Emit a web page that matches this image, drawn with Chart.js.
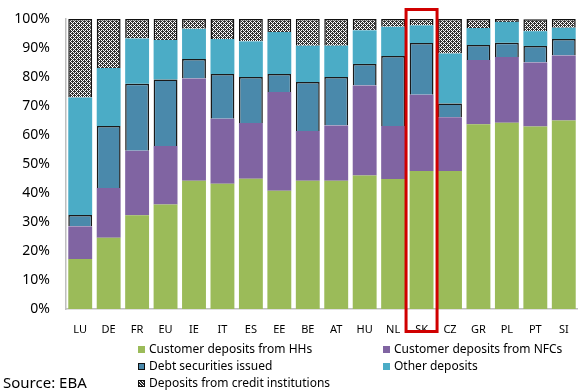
<!DOCTYPE html>
<html>
<head>
<meta charset="utf-8">
<script src="https://cdn.jsdelivr.net/npm/chart.js@4"></script>
<style>
  html, body { margin: 0; padding: 0; background: #fff; }
  #wrap { position: relative; width: 578px; height: 390px; font-family: "Noto Sans", sans-serif; color: #000; }
  #chart { position: absolute; left: 0; top: 0; }
  .lg { position: absolute; font-size: 12px; line-height: 14px; white-space: nowrap; }
  .lg i { display: inline-block; width: 7px; height: 7px; margin-right: 4px; vertical-align: 0px; box-sizing: border-box; }
  #source { position: absolute; left: 3px; top: 373px; font-size: 15px; line-height: 18px; }
</style>
</head>
<body>
<div id="wrap">
  <canvas id="chart" width="578" height="390"></canvas>
  <div class="lg" style="left:138px; top:342px"><i style="background:#9BBB59"></i>Customer deposits from HHs</div>
  <div class="lg" style="left:383px; top:342px"><i style="background:#8064A2"></i>Customer deposits from NFCs</div>
  <div class="lg" style="left:138px; top:359px"><i style="background:#4A89AB; border:1px solid #111"></i>Debt securities issued</div>
  <div class="lg" style="left:383px; top:359px"><i style="background:#4BACC6"></i>Other deposits</div>
  <div class="lg" style="left:138px; top:376px"><i style="background:repeating-linear-gradient(45deg,#333 0 1px,#fff 1px 2px); border:1px solid #111"></i>Deposits from credit institutions</div>
  <div id="source">Source: EBA</div>
</div>
<script>
const countries = ['LU', 'DE', 'FR', 'EU', 'IE', 'IT', 'ES', 'EE', 'BE', 'AT', 'HU', 'NL', 'SK', 'CZ', 'GR', 'PL', 'PT', 'SI'];
const hhDeposits   = [17.2, 24.6, 32.3, 36.0, 44.2, 43.2, 44.9, 40.8, 44.2, 44.2, 46.0, 44.8, 47.6, 47.6, 63.7, 64.2, 62.9, 65.0];
const nfcDeposits  = [11.3, 17.1, 22.3, 20.2, 35.3, 22.4, 19.2, 34.0, 17.2, 19.1, 31.1, 18.3, 26.3, 18.5, 22.2, 22.7, 22.1, 22.4];
const debtIssued   = [3.9, 21.4, 23.1, 22.9, 6.7, 15.4, 15.9, 6.2, 16.9, 16.7, 7.4, 24.1, 17.8, 4.8, 5.1, 4.9, 5.7, 5.7];
const otherDeposits = [40.5, 20.0, 15.6, 13.7, 10.4, 12.1, 12.3, 14.5, 12.5, 10.8, 11.6, 10.1, 6.1, 17.2, 5.9, 7.2, 5.1, 3.9];
const creditInst   = [27.1, 16.9, 6.7, 7.2, 3.4, 6.9, 7.7, 4.5, 9.2, 9.2, 3.9, 2.7, 2.2, 11.9, 3.1, 1.0, 4.1, 3.0];
const yTicks = [0, 10, 20, 30, 40, 50, 60, 70, 80, 90, 100];
const highlighted = 'SK';

// small dither tile for the "credit institutions" segments
function hatchPattern() {
  const c = document.createElement('canvas');
  c.width = 4; c.height = 4;
  const g = c.getContext('2d');
  g.fillStyle = '#fff';
  g.fillRect(0, 0, 4, 4);
  g.fillStyle = '#333';
  for (let y = 0; y < 4; y++) {
    for (let x = 0; x < 4; x++) {
      if ((x + y) % 2 === 0 || (x + y) % 4 === 1 && x % 2 === 0) g.fillRect(x, y, 1, 1);
    }
  }
  return g.createPattern(c, 'repeat');
}

// red frame around the highlighted country
const frameBox = {
  id: 'frameBox',
  afterDatasetsDraw(chart) {
    const ctx = chart.ctx;
    const x = chart.scales.x.getPixelForValue(countries.indexOf(highlighted));
    ctx.save();
    ctx.strokeStyle = '#D00000';
    ctx.lineWidth = 3;
    ctx.strokeRect(x - 15.5, 9.5, 31, 322);
    ctx.restore();
  }
};

const ctx = document.getElementById('chart').getContext('2d');
const barOpts = { barPercentage: 0.84, categoryPercentage: 1 };

new Chart(ctx, {
  type: 'bar',
  data: {
    labels: countries,
    datasets: [
      { label: 'Customer deposits from HHs', data: hhDeposits, backgroundColor: '#9BBB59', borderWidth: 0, ...barOpts },
      { label: 'Customer deposits from NFCs', data: nfcDeposits, backgroundColor: '#8064A2', borderWidth: 0, ...barOpts },
      { label: 'Debt securities issued', data: debtIssued, backgroundColor: '#4A89AB', borderColor: '#1a1a1a', borderWidth: 1.5, ...barOpts },
      { label: 'Other deposits', data: otherDeposits, backgroundColor: '#4BACC6', borderWidth: 0, ...barOpts },
      { label: 'Deposits from credit institutions', data: creditInst, backgroundColor: hatchPattern(), borderColor: '#111', borderWidth: 1.5, ...barOpts }
    ]
  },
  options: {
    responsive: false,
    animation: false,
    devicePixelRatio: 1,
    layout: { padding: { top: 19, right: 0, bottom: 0, left: 0 } },
    plugins: {
      legend: { display: false },
      tooltip: { enabled: false }
    },
    scales: {
      x: {
        stacked: true,
        grid: { display: false },
        border: { color: '#BFBFBF', width: 1.5 },
        ticks: { padding: 6, color: '#000', font: { family: 'Noto Sans', size: 11 }, maxRotation: 0 },
        afterFit(s) { s.height = 81; }
      },
      y: {
        stacked: true,
        min: 0,
        max: 100,
        grid: { display: false },
        border: { color: '#BFBFBF', width: 1.5 },
        afterBuildTicks(s) { s.ticks = yTicks.map(v => ({ value: v })); },
        ticks: { padding: 8, color: '#000', font: { family: 'Noto Sans', size: 14 }, callback: v => v + '%' },
        afterFit(s) { s.width = 66; }
      }
    }
  },
  plugins: [frameBox]
});
</script>
</body>
</html>
